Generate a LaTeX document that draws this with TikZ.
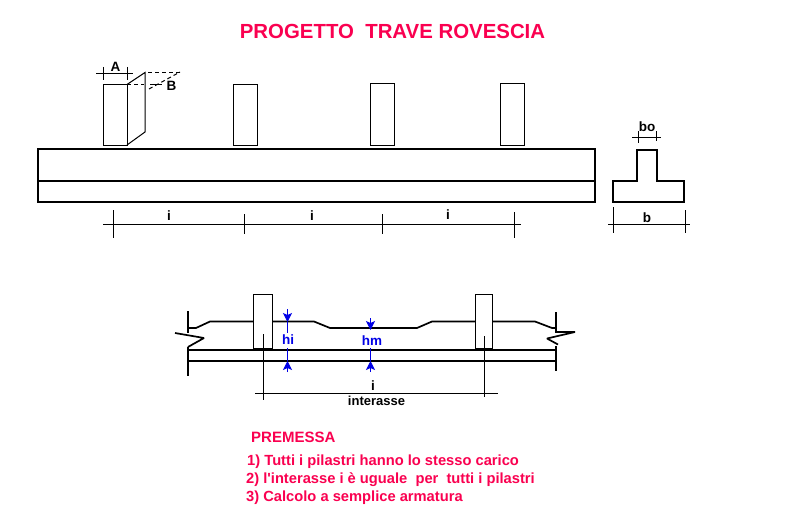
\documentclass[tikz,border=0pt]{standalone}
\usepackage{fontspec}
\setmainfont{Liberation Sans}
\usetikzlibrary{arrows.meta}
\definecolor{redtxt}{RGB}{250,0,80}
\definecolor{bluedim}{RGB}{0,0,230}
\tikzset{
  thin line/.style={line width=1pt,black},
  thick line/.style={line width=2pt,black},
  med line/.style={line width=1.7pt,black,line join=bevel},
  dash line/.style={line width=1pt,black,dash pattern=on 4pt off 3pt},
  bluearrow/.style={line width=1pt,bluedim,-{Stealth[length=9pt,width=9pt,inset=2pt]}},
  bluelead/.style={line width=1pt,bluedim},
  lab/.style={font=\fontsize{13.5}{13.5}\selectfont\bfseries,inner sep=0pt,text=black},
  bluelab/.style={font=\fontsize{13.5}{13.5}\selectfont\bfseries,inner sep=0pt,text=bluedim},
  redlab/.style={font=\fontsize{14.7}{14.7}\selectfont\bfseries,inner sep=0pt,text=redtxt,anchor=west},
}
\begin{document}
\begin{tikzpicture}[x=1pt,y=-1pt]
\useasboundingbox (0,0) rectangle (809,519);
\fill[white] (0,0) rectangle (809,519);
% title
\node[font=\fontsize{20.4}{20.4}\selectfont\bfseries,inner sep=0pt,text=redtxt] (title) at (392.5,31.5) {PROGETTO\ \ TRAVE ROVESCIA};
% top beam
\draw[thick line] (38,149) rectangle (595,202);
\draw[thick line] (38,181) -- (595,181);
% columns
\draw[thin line] (103,84.5) rectangle (127,145);
\draw[thin line] (233.5,84.5) rectangle (257,145);
\draw[thin line] (370,83.5) rectangle (394,145);
\draw[thin line] (500,83.5) rectangle (524,145);
% perspective
\draw[thin line] (127,84.5) -- (145,72.5) -- (145,132) -- (127,145);
\draw[dash line] (148,72.5) -- (180,72.5);
\draw[dash line] (127,85) -- (144,85);
\draw[dash line] (149,89) -- (180,72);
\draw[thin line] (150,85) -- (162,85);
% A dim
\draw[thin line] (96,74) -- (133,74);
\draw[thin line] (103,67) -- (103,80);
\draw[thin line] (127,67) -- (127,80);
\node[lab] (labA) at (115.5,67) {A};
\node[lab] (labB) at (171.5,85.5) {B};
% bottom dims
\draw[thin line] (103,224) -- (521,224);
\draw[thin line] (113,210) -- (113,238);
\draw[thin line] (244.5,214) -- (244.5,234);
\draw[thin line] (382,214) -- (382,234);
\draw[thin line] (514,212) -- (514,238);
\node[lab] (i1) at (169,216) {i};
\node[lab] (i2) at (312,216) {i};
\node[lab] (i3) at (448,215) {i};
% T section
\draw[thick line] (613,181) -- (637,181) -- (637,150) -- (657,150) -- (657,181) -- (684,181) -- (684,202) -- (613,202) -- cycle;
\draw[thin line] (632,137) -- (661,137);
\draw[thin line] (638,131) -- (638,143);
\draw[thin line] (656,131) -- (656,141);
\node[lab] (bo) at (647,127) {bo};
\draw[thin line] (608,224) -- (690,224);
\draw[thin line] (613,207) -- (613,233);
\draw[thin line] (685,210) -- (685,233);
\node[lab] (b) at (647,218) {b};
% lower beam
\draw[thick line] (188,350) -- (556,350);
\draw[thick line] (188,361) -- (556,361);
\draw[thick line] (188,311) -- (188,333);
\draw[thick line] (188,347) -- (188,376);
\draw[thick line] (556,312) -- (556,333);
\draw[thick line] (556,346) -- (556,371);
\draw[med line] (188,328) -- (196,328) -- (210,321.5) -- (254,321.5);
\draw[med line] (272,321.5) -- (314,321.5) -- (330,328) -- (417,328) -- (432,321.5) -- (475,321.5);
\draw[med line] (492,321.5) -- (535,321.5) -- (552,328) -- (556,328);
\draw[med line] (175,333) -- (204,338) -- (188,347);
\draw[med line] (556,332) -- (575,332) -- (547,338.5) -- (558,344.5);
\draw[thin line,fill=white] (253.5,294.5) rectangle (272,348);
\draw[thin line,fill=white] (475.5,294.5) rectangle (492.5,348);
\draw[thick line] (254,348.5) -- (272,348.5);
\draw[thick line] (476,348.5) -- (492,348.5);
% lower dims
\draw[bluearrow] (287.5,309) -- (287.5,322);
\draw[bluelead] (287.5,322) -- (287.5,333);
\draw[bluelead] (287.5,348) -- (287.5,361);
\draw[bluearrow] (287.5,372) -- (287.5,361);
\node[bluelab] (hi) at (288,340) {hi};
\draw[bluearrow] (370.5,318) -- (370.5,330);
\draw[bluelead] (370.5,348) -- (370.5,361);
\draw[bluearrow] (370.5,372) -- (370.5,361);
\node[bluelab] (hm) at (372,341) {hm};
\draw[thin line] (255,393) -- (498,393);
\draw[thin line] (263.5,334) -- (263.5,400);
\draw[thin line] (484.5,336) -- (484.5,397);
\node[lab] (i4) at (373,386) {i};
\node[lab,font=\fontsize{13}{13}\selectfont\bfseries] (inter) at (376.5,400.5) {interasse};
% notes
\node[redlab,font=\fontsize{15}{15}\selectfont\bfseries] (prem) at (251,437) {PREMESSA};
\node[redlab] (n1) at (247,461.5) {1) Tutti i pilastri hanno lo stesso carico};
\node[redlab] (n2) at (246,479.5) {2) l\textquotesingle interasse i è uguale\ \ per\ \ tutti i pilastri};
\node[redlab] (n3) at (246,497.5) {3) Calcolo a semplice armatura};
\end{tikzpicture}
\end{document}
